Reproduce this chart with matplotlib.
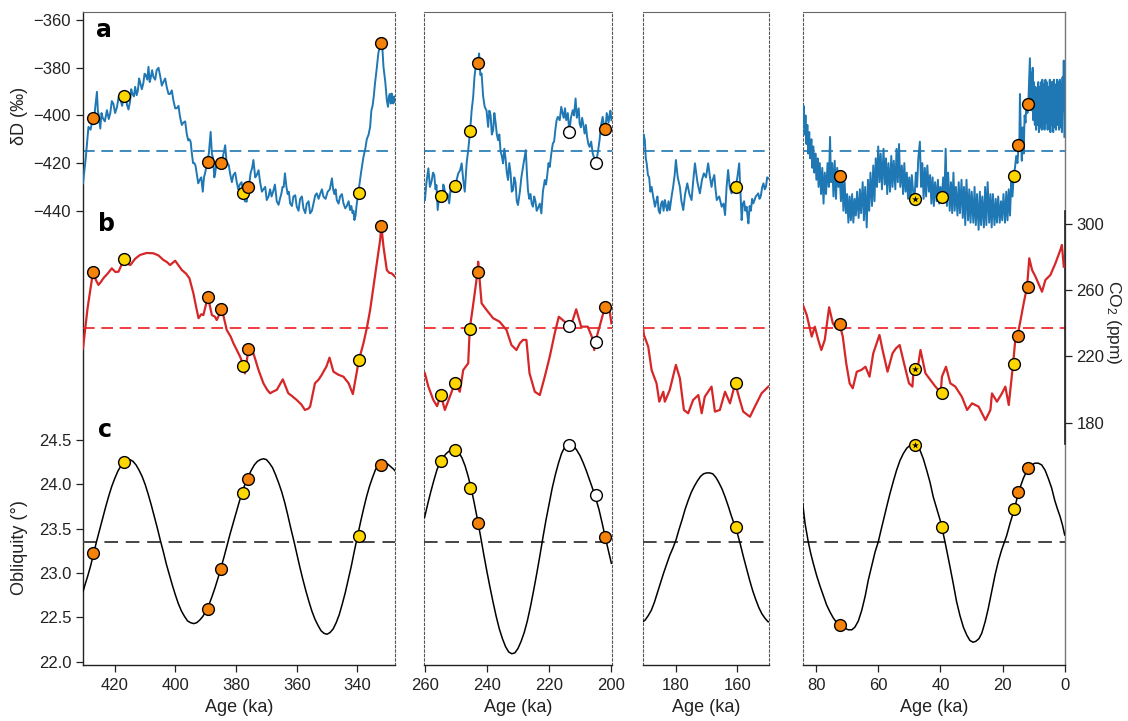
import matplotlib.pyplot as plt
from matplotlib.ticker import FormatStrFormatter

plt.rcParams['font.family'] = ['Liberation Sans', 'DejaVu Sans']
plt.rcParams['mathtext.default'] = 'regular'

# ---------------- data ----------------
# column 1 : 430-328 ka
d1_age = [430.5, 429.6, 428.7, 428.0, 427.3, 426.9, 426.5, 425.9, 425.6, 425.3, 424.8, 424.4, 424.0, 423.3,
          422.6, 422.0, 421.5, 421.0, 420.5, 419.9, 419.3, 418.7, 418.2, 417.6, 417.0, 416.5, 416.0, 415.5,
          415.0, 414.6, 414.2, 413.7, 413.3, 412.8, 412.4, 412.0, 411.7, 411.1, 410.6, 410.2, 409.8, 409.3,
          408.9, 408.5, 408.2, 407.7, 407.3, 406.7, 406.2, 405.6, 405.1, 404.5, 404.0, 403.4, 402.9, 402.3,
          401.8, 401.2, 400.7, 400.1, 399.6, 399.0, 398.5, 397.9, 397.4, 396.8, 396.3, 395.8, 395.4, 395.0,
          394.6, 394.2, 393.8, 393.4, 393.0, 392.5, 392.0, 391.5, 391.0, 390.6, 390.2, 389.5, 389.0, 388.4,
          388.0, 387.6, 387.2, 386.9, 386.4, 386.0, 385.5, 385.0, 384.3, 383.6, 383.2, 382.8, 382.4, 382.0,
          381.4, 380.9, 380.3, 379.8, 379.3, 378.8, 378.2, 377.7, 377.1, 376.5, 376.0, 375.6, 375.2, 374.7,
          374.3, 373.7, 373.2, 372.6, 372.1, 371.5, 371.0, 370.4, 369.9, 369.3, 368.8, 368.3, 367.8, 367.2,
          366.6, 366.0, 365.5, 365.1, 364.7, 364.3, 363.9, 363.4, 363.0, 362.6, 362.2, 361.6, 361.1, 360.5,
          360.0, 359.4, 358.9, 358.3, 357.8, 357.2, 356.7, 356.1, 355.6, 355.0, 354.5, 353.9, 353.4, 352.8,
          352.3, 351.7, 351.2, 350.5, 349.8, 349.1, 348.4, 348.0, 347.6, 347.2, 346.8, 346.2, 345.7, 345.1,
          344.6, 344.0, 343.5, 342.9, 342.4, 342.0, 341.6, 341.3, 341.0, 340.6, 340.3, 339.7, 338.8, 338.0,
          337.4, 336.9, 336.3, 335.8, 335.4, 335.0, 334.6, 334.2, 333.6, 333.1, 332.6, 332.2, 331.8, 331.4,
          330.8, 330.3, 329.9, 329.6, 329.3, 329.0, 328.7, 328.4, 328.2, 327.9, 327.6]
d1_val = [-428.5, -418, -404.8, -406, -401.1, -403, -397, -390.1, -398, -400, -405.5, -399, -401, -402.5,
          -397.8, -401.5, -399, -394, -395, -399, -396.5, -392, -393, -396, -392.0, -391, -395.5, -397.5,
          -394.3, -389, -391, -392, -388, -391.5, -389.5, -384.5, -385.9, -389, -386.5, -382.5, -383, -385,
          -379.6, -386, -384.5, -381, -383.8, -385, -381, -380, -383.1, -387.5, -386, -384.5, -388, -391,
          -391, -389.5, -393.6, -397, -397, -396, -400.6, -404, -403, -402.5, -407.6, -410.5, -410, -411,
          -415.9, -420, -420, -421, -424.3, -428.5, -427, -426, -432.0, -426, -424, -419.5, -416, -406.9,
          -416, -418, -426, -424.3, -419, -421, -422, -420.1, -417, -412.5, -419, -420, -421, -424.3,
          -428, -425, -424, -427.9, -431, -429, -428, -432.7, -436, -436.2, -430.0, -428, -424, -422,
          -418.7, -426, -425, -423, -427.9, -432, -431, -430, -435.5, -434, -431, -434, -432, -429,
          -436, -437.5, -434.8, -433, -430, -430, -424.3, -430, -433, -432, -436.9, -438, -434, -433.5,
          -438.3, -440, -435, -434, -439.0, -441, -437, -436, -441.1, -440, -437, -433.5, -432.7, -435,
          -433, -431, -434.1, -435, -432, -431, -426.4, -431, -433, -431, -435.5, -437, -434, -433,
          -436.9, -439, -438, -436, -439.7, -438, -441, -440, -443.9, -442, -438, -432.5, -424, -417.4,
          -414, -410, -408, -404.8, -398, -396, -392, -386.6, -380, -374, -371, -369.4, -371, -379.6,
          -386, -393.6, -396.4, -392, -391, -395, -390.8, -393, -395, -392, -394.3]

c1_age = [430.5, 429.0, 427.2, 426.2, 425.4, 424.6, 423.8, 422.4, 421.0, 419.8, 418.8, 416.9, 415.8, 414.9,
          413.3, 411.7, 409.5, 407.3, 405.6, 404.0, 402.8, 401.8, 400.1, 397.9, 396.5, 395.4, 394.1, 393.2,
          392.4, 391.5, 390.8, 389.3, 388.0, 387.0, 386.4, 384.7, 383.1, 381.8, 380.9, 378.7, 377.5, 377.1,
          375.9, 374.3, 372.6, 371.0, 369.8, 368.8, 367.6, 366.6, 364.6, 362.8, 361.5, 360.0, 358.5, 357.3,
          356.2, 355.6, 354.0, 352.8, 351.8, 350.2, 349.2, 347.9, 346.3, 344.6, 342.9, 341.5, 339.5, 338.0,
          336.8, 335.8, 333.6, 332.5, 332.1, 331.4, 330.3, 329.5, 328.7, 327.6]
c1_val = [224.9, 249.1, 271.0, 266, 263.2, 265, 267.2, 270, 273.2, 271, 271.2, 278.9, 276, 275.2,
          279, 281.3, 282.5, 282.3, 281, 278.3, 277, 275.2, 277.8, 272.2, 270, 267.2, 258.2, 250,
          243.1, 245.5, 245, 256.1, 245, 244, 242, 248.7, 236, 232, 228, 219.9, 214.4, 209.8,
          224.5, 221.9, 211.8, 203.8, 200, 197.8, 199, 199.8, 206.2, 197.8, 196, 193.7, 191, 187.7,
          188.5, 189.7, 203.8, 206, 208.8, 214, 219.3, 210.8, 209, 207.8, 203.8, 197.3, 217.9, 228,
          238, 248.1, 276.3, 290.3, 298.8, 286.3, 272.2, 270.5, 270.2, 268.2]

o1_age = [430.5, 430, 429, 428, 427, 426, 425, 424, 423, 422, 421, 420, 419, 418, 417, 416, 415, 414, 413,
          412, 411, 410, 409, 408, 407, 406, 405, 404, 403, 402, 401, 400, 399, 398, 397, 396, 395, 394,
          393, 392, 391, 390, 389, 388, 387, 386, 385, 384, 383, 382, 381, 380, 379, 378, 377, 376, 375,
          374, 373, 372, 371, 370, 369, 368, 367, 366, 365, 364, 363, 362, 361, 360, 359, 358, 357, 356,
          355, 354, 353, 352, 351, 350, 349, 348, 347, 346, 345, 344, 343, 342, 341, 340, 339, 338, 337,
          336, 335, 334, 333, 332, 331, 330, 329, 328, 327.5]
o1_val = [22.79, 22.85, 22.96, 23.08, 23.22, 23.36, 23.49, 23.62, 23.75, 23.87, 23.98, 24.07, 24.15, 24.21,
          24.26, 24.28, 24.28, 24.26, 24.22, 24.16, 24.09, 24.00, 23.89, 23.77, 23.64, 23.51, 23.37, 23.24,
          23.10, 22.98, 22.86, 22.75, 22.65, 22.57, 22.51, 22.46, 22.44, 22.43, 22.44, 22.47, 22.51, 22.57,
          22.64, 22.73, 22.83, 22.94, 23.06, 23.18, 23.31, 23.44, 23.56, 23.68, 23.80, 23.91, 24.01, 24.09,
          24.16, 24.22, 24.26, 24.28, 24.29, 24.28, 24.24, 24.19, 24.11, 24.02, 23.92, 23.80, 23.66, 23.51,
          23.37, 23.22, 23.07, 22.93, 22.80, 22.68, 22.57, 22.48, 22.41, 22.35, 22.32, 22.31, 22.33, 22.37,
          22.44, 22.53, 22.65, 22.78, 22.93, 23.08, 23.25, 23.41, 23.57, 23.72, 23.86, 23.98, 24.08, 24.17,
          24.22, 24.25, 24.25, 24.23, 24.20, 24.17, 24.15]

e1_age = [427.2, 417.0, 389.4, 385.0, 377.6, 376.0, 339.6, 332.2]
e1_type = ['o', 'y', 'o', 'o', 'y', 'o', 'y', 'o']
e1_dD = [-401.1, -392.0, -419.5, -420.1, -432.7, -430.0, -432.5, -369.4]
e1_co2 = [271.0, 278.9, 256.1, 248.7, 214.4, 224.5, 217.9, 298.8]
e1_obl = [23.23, 24.25, 22.60, 23.05, 23.90, 24.06, 23.42, 24.22]

# column 2 : 260-200 ka
d2_age = [259.9, 259.4, 258.8, 258.3, 257.8, 257.3, 256.9, 256.5, 256.2, 255.8, 255.2, 254.7, 254.3, 254.0,
          253.6, 253.2, 252.6, 252.1, 251.6, 251.2, 250.7, 250.2, 249.7, 249.2, 248.6, 248.1, 247.6, 247.1,
          246.5, 246.0, 245.4, 244.9, 244.4, 244.0, 243.6, 242.8, 242.5, 242.1, 241.7, 241.2, 240.7, 240.1,
          239.6, 239.2, 238.8, 238.4, 238.0, 237.6, 237.2, 236.8, 236.4, 236.0, 235.6, 235.2, 234.8, 234.4,
          234.0, 233.6, 233.2, 232.8, 232.4, 232.0, 231.6, 231.2, 230.8, 230.4, 230.0, 229.4, 228.9, 228.2,
          227.5, 227.1, 226.8, 226.4, 226.0, 225.6, 225.2, 224.8, 224.4, 224.0, 223.6, 223.0, 222.5, 222.0,
          221.4, 221.0, 220.6, 220.2, 219.8, 219.3, 218.8, 218.4, 218.0, 217.6, 217.2, 216.6, 216.1, 215.7,
          215.3, 214.9, 214.5, 214.0, 213.5, 213.0, 212.4, 212.0, 211.5, 211.1, 210.8, 210.5, 210.2, 209.8,
          209.4, 209.0, 208.6, 208.2, 207.8, 207.4, 207.0, 206.5, 206.0, 205.5, 205.0, 204.4, 203.8, 203.3,
          202.8, 202.4, 201.9, 201.5, 201.2, 200.9, 200.6, 200.3, 200.0]
d2_val = [-435.5, -428, -422.2, -430, -427.9, -424, -425, -431, -429.2, -439.7, -432, -433.9, -436, -429,
          -431, -435, -433, -436.9, -430, -432, -428, -429.8, -427, -424.3, -423, -420.1, -427, -432,
          -420, -414.6, -406.7, -398, -392.2, -384, -379.6, -377.8, -374, -383, -382.4, -392, -396.4, -398,
          -404.8, -398, -400, -408, -406.2, -399, -403, -408, -410.4, -408, -415, -417, -420.1, -414,
          -418, -424, -427.1, -420, -424, -432, -431.3, -426, -428, -436, -437.6, -432, -425.8, -420,
          -414.6, -425, -431.3, -435, -433, -437, -438.3, -434, -436, -440, -439.0, -437, -441.1, -432,
          -427.1, -429, -425, -420, -421.6, -416, -411.7, -411, -406, -402, -400.6, -402, -396.4, -399,
          -401, -397, -402, -399, -407, -401, -397.8, -400, -392.9, -401, -399, -397, -403.4, -405,
          -401, -404, -407.6, -404, -409, -412, -413.2, -411, -415.9, -418, -420.1, -416, -410.4, -404,
          -400.6, -404, -405.9, -399, -401, -403, -399.9, -398, -402]

c2_age = [259.9, 258.8, 257.2, 256.0, 254.8, 253.5, 251.9, 250.3, 248.7, 247.6, 246.0, 245.5, 244.2, 243.0,
          242.8, 241.7, 240.1, 238.0, 235.9, 233.7, 232.1, 230.5, 229.4, 228.4, 227.3, 226.3, 224.6, 223.0,
          221.4, 219.8, 218.2, 216.9, 215.0, 213.8, 212.4, 211.3, 209.7, 207.6, 206.3, 205.5, 205.2, 203.8,
          202.1, 200.6, 200.0]
c2_val = [209.8, 201.8, 193.7, 190, 196.7, 187.7, 195.7, 203.8, 198.7, 211.8, 215.9, 236.6, 254.1, 271.0,
          277.2, 252.1, 248.1, 243.1, 241, 236, 226.9, 223.9, 228, 230, 230, 209.8, 198.7, 196.7,
          207.8, 219.9, 234, 244.0, 241, 238.4, 242, 248.5, 238, 238, 232, 223.9, 228.7, 238,
          249.7, 248.1, 240]

o2_age = [260, 259, 258, 257, 256, 255, 254, 253, 252, 251, 250, 249, 248, 247, 246, 245, 244, 243, 242,
          241, 240, 239, 238, 237, 236, 235, 234, 233, 232, 231, 230, 229, 228, 227, 226, 225, 224, 223,
          222, 221, 220, 219, 218, 217, 216, 215, 214, 213, 212, 211, 210, 209, 208, 207, 206, 205, 204,
          203, 202, 201, 200]
o2_val = [23.63, 23.78, 23.92, 24.05, 24.17, 24.25, 24.31, 24.35, 24.38, 24.40, 24.40, 24.36, 24.30, 24.21,
          24.09, 23.95, 23.78, 23.60, 23.41, 23.21, 23.02, 22.84, 22.67, 22.51, 22.37, 22.26, 22.17, 22.11,
          22.09, 22.10, 22.15, 22.23, 22.33, 22.46, 22.62, 22.80, 22.99, 23.19, 23.40, 23.60, 23.78, 23.96,
          24.11, 24.24, 24.35, 24.42, 24.45, 24.46, 24.43, 24.38, 24.32, 24.24, 24.15, 24.05, 23.95, 23.84,
          23.72, 23.57, 23.41, 23.26, 23.11]

e2_age = [254.8, 250.3, 245.5, 242.9, 213.6, 205.1, 202.0]
e2_type = ['y', 'y', 'y', 'o', 'w', 'w', 'o']
e2_dD = [-433.9, -429.8, -406.7, -377.8, -407.0, -420.1, -405.9]
e2_co2 = [196.7, 203.8, 236.6, 271.0, 238.4, 228.7, 249.7]
e2_obl = [24.27, 24.39, 23.96, 23.56, 24.44, 23.88, 23.41]

# column 3 : 190-150 ka
d3_age = [190.8, 190.5, 190.1, 189.8, 189.5, 189.1, 188.7, 188.3, 187.9, 187.4, 186.8, 186.4, 186.0, 185.6,
          185.2, 184.8, 184.4, 184.0, 183.6, 183.2, 182.8, 182.4, 182.0, 181.4, 180.9, 180.4, 180.0, 179.4,
          178.7, 178.2, 177.6, 177.0, 176.3, 175.6, 174.9, 174.4, 173.8, 173.0, 172.2, 171.5, 170.9, 170.2,
          169.5, 168.9, 168.4, 168.0, 167.5, 167.1, 166.7, 165.9, 165.1, 164.5, 164.0, 163.5, 163.0, 162.5,
          161.9, 161.2, 160.6, 160.0, 159.4, 159.0, 158.6, 158.2, 157.8, 157.4, 157.0, 156.7, 156.4, 156.0,
          155.6, 155.2, 154.8, 154.0, 153.2, 152.8, 152.4, 151.9, 151.5, 151.1, 150.7, 150.3, 149.9]
d3_val = [-413, -408, -410.4, -418, -420.1, -425, -426, -432, -430, -434, -438.3, -436, -434, -440,
          -441.1, -437, -436, -440, -435.5, -438, -440, -436, -439.7, -434, -430, -425, -418.7, -426,
          -430, -436, -439.7, -433, -428.5, -433, -435.5, -428, -420.1, -428, -432.7, -427, -424.3, -426,
          -420.1, -426, -430, -427, -425, -431, -435.5, -434, -438.3, -437, -441.8, -430, -422.9, -430,
          -432.7, -428, -430.1, -426, -420.1, -432, -443.9, -437, -436, -440, -438.3, -442, -445.3, -438,
          -440, -435, -436.9, -434, -432.7, -435, -434, -430, -428.5, -431, -430, -426, -426.4]

c3_age = [190.6, 190.4, 189.0, 187.9, 186.3, 185.4, 184.1, 183.6, 182.0, 180.0, 178.7, 177.4, 176.0, 174.4,
          172.7, 171.6, 170.6, 168.4, 167.3, 165.7, 164.0, 162.4, 160.7, 159.2, 158.1, 155.9, 154.3, 152.1, 149.9]
c3_val = [236, 233, 225.9, 211.8, 203.8, 192.7, 198.7, 192.7, 199.8, 214.9, 206.8, 187.7, 185.7, 193.7,
          196.7, 185.7, 195.7, 201.8, 186.7, 187.7, 198.7, 191.7, 203.8, 193.7, 186.7, 183.6, 189.7, 197.8, 201.8]

o3_age = [190.8, 190, 189, 188, 187, 186, 185, 184, 183, 182, 181, 180, 179, 178, 177, 176, 175, 174, 173,
          172, 171, 170, 169, 168, 167, 166, 165, 164, 163, 162, 161, 160, 159, 158, 157, 156, 155, 154,
          153, 152, 151, 150, 149.8]
o3_val = [22.45, 22.47, 22.52, 22.58, 22.67, 22.78, 22.89, 23.00, 23.10, 23.20, 23.28, 23.37, 23.49, 23.60,
          23.72, 23.82, 23.91, 23.98, 24.04, 24.09, 24.12, 24.13, 24.13, 24.12, 24.08, 24.02, 23.95, 23.86,
          23.76, 23.65, 23.55, 23.45, 23.32, 23.18, 23.05, 22.92, 22.80, 22.70, 22.61, 22.54, 22.49, 22.45,
          22.45]

e3_age = [160.6]
e3_type = ['y']
e3_dD = [-430.1]
e3_co2 = [203.8]
e3_obl = [23.52]

# column 4 : 84-0 ka
d4_age = [84.3, 84.0, 83.7, 83.4, 83.1, 82.8, 82.5, 82.2, 81.9, 81.5, 81.2, 80.9, 80.6, 80.2, 79.9, 79.5,
          79.2, 78.8, 78.4, 78.0, 77.6, 77.2, 76.8, 76.3, 75.9, 75.5, 75.2, 74.8, 74.4, 74.0, 73.6, 73.2,
          72.8, 72.4, 72.0, 71.6, 71.2, 70.8, 70.4, 70.0, 69.6, 69.2, 68.8, 68.4, 68.0, 67.6, 67.2, 66.8,
          66.3, 65.9, 65.5, 65.0, 64.6, 64.2, 63.7, 63.3, 62.9, 62.5, 62.0, 61.6, 61.2, 60.8, 60.4, 60.0,
          59.6, 59.2, 58.8, 58.3, 57.9, 57.5, 57.1, 56.7, 56.2, 55.8, 55.4, 55.0, 54.5, 54.1, 53.7, 53.3,
          52.9, 52.4, 52.0, 51.6, 51.2, 50.8, 50.4, 50.0, 49.6, 49.2, 48.7, 48.3, 47.9, 47.5, 47.1, 46.6,
          46.2, 45.8, 45.4, 45.0, 44.6, 44.2, 43.7, 43.3, 42.9, 42.5, 42.1, 41.7, 41.2, 40.8, 40.4, 40.0,
          39.5, 39.1, 38.7, 38.3, 37.9, 37.5, 37.0, 36.6, 36.2, 35.8, 35.4, 35.0, 34.5, 34.1, 33.7, 33.2,
          32.8, 32.4, 32.0, 31.6, 31.1, 30.7, 30.3, 29.9, 29.4, 29.0, 28.6, 28.2, 27.7, 27.3, 26.9, 26.5,
          26.0, 25.6, 25.2, 24.8, 24.3, 23.9, 23.5, 23.1, 22.6, 22.2, 21.8, 21.4, 20.9, 20.5, 20.1, 19.7,
          19.2, 18.8, 18.4, 18.0, 17.6, 17.2, 16.8, 16.4, 16.0, 15.6, 15.2, 14.8, 14.6, 14.4, 14.1, 13.8,
          13.5, 13.2, 12.9, 12.6, 12.3, 12.0, 11.7, 11.4, 11.2, 11.0, 10.8, 10.5, 10.3, 10.1, 9.9, 9.6,
          9.4, 9.2, 9.0, 8.8, 8.5, 8.3, 8.1, 7.9, 7.6, 7.4, 7.2, 6.9, 6.7, 6.5, 6.2, 6.0,
          5.8, 5.5, 5.3, 5.1, 4.8, 4.6, 4.4, 4.1, 3.9, 3.7, 3.5, 3.2, 3.0, 2.8, 2.5, 2.3,
          2.1, 1.8, 1.6, 1.4, 1.1, 0.9, 0.7, 0.5, 0.3, 0.1]
d4_val = [-403, -396, -408, -400, -412, -404, -416, -407, -418, -410, -422, -413, -424, -416, -427, -418,
          -430, -420, -433, -422, -437, -424, -433, -420, -430, -409, -428, -420, -434, -419, -435, -422,
          -430, -425, -436, -424, -440, -428, -441, -433, -445, -434, -444, -433, -445, -435, -442, -432,
          -443, -431, -441, -428, -444, -430, -447, -427, -440, -424, -438, -421, -436, -418, -430, -413,
          -428, -416, -431, -414, -429, -418, -433, -420, -432, -417, -430, -419, -431, -414, -428, -412,
          -430, -421, -433, -420, -432, -424, -435, -426, -436, -425, -433, -435, -424, -430, -418, -411,
          -430, -420, -435, -422, -434, -421, -432, -425, -437, -426, -438, -428, -436, -427, -437, -430,
          -434, -426, -433, -414, -438, -424, -440, -428, -441, -424, -440, -430, -442, -428, -441, -427,
          -443, -430, -446, -427, -444, -431, -445, -432, -445, -430, -446, -433, -448, -432, -446, -434,
          -447, -430, -446, -428, -445, -433, -447, -433, -446, -435, -445, -434, -445, -436, -444, -433,
          -445, -432, -444, -431, -442, -428, -434, -425, -422, -417, -420, -412, -413, -391, -409, -419,
          -405, -416, -400, -403, -394, -399, -395, -384, -376, -393, -382, -398, -380, -402, -386, -404,
          -388, -406, -389, -404, -386, -407, -388, -405, -386, -406, -385, -404, -387, -406, -385, -403,
          -386, -406, -388, -404, -385, -407, -386, -404, -386, -407, -385, -405, -387, -406, -385, -404,
          -386, -406, -385, -405, -387, -407, -384, -398, -377, -409]

c4_age = [84.1, 83.0, 81.4, 80.4, 79.3, 78.3, 77.2, 75.8, 74.6, 73.5, 72.4, 71.4, 70.3, 69.2, 68.2, 66.9,
          65.5, 64.1, 62.8, 61.6, 59.6, 58.6, 57.0, 55.4, 54.3, 53.1, 51.7, 50.1, 49.0, 48.6, 47.4, 46.4,
          44.8, 43.2, 41.6, 39.9, 39.5, 38.2, 36.8, 35.2, 33.1, 31.4, 29.8, 27.7, 25.5, 23.9, 23.4, 21.8,
          20.2, 19.1, 18.0, 16.6, 15.9, 15.2, 14.2, 13.2, 12.1, 11.4, 10.5, 9.4, 7.3, 6.2, 4.6, 3.0,
          1.4, 0.9, 0.3]
c4_val = [250.5, 245, 232, 238, 230, 223.9, 230, 249.7, 240, 237, 239.4, 232, 215.9, 203.8, 200.8, 210.8,
          211.8, 213.8, 207.8, 221.9, 233, 223.9, 210.8, 221.9, 224.9, 226.9, 215.9, 203.8, 201.8, 212.6, 211.8, 223.9,
          209.8, 205.8, 201.8, 198.2, 207.8, 213.8, 203.8, 201.8, 195.7, 187.7, 191.7, 189.7, 181.6, 187.7, 197.7, 192.7,
          197.7, 201.8, 190.7, 215.7, 230, 232.2, 242, 252.1, 262.2, 279.3, 272.2, 268.2, 259.1, 266.2, 269.2, 276.2,
          284.3, 287.3, 274.2]

o4_age = [84.3, 83.5, 82.5, 81.7, 80.9, 79.8, 78.7, 77.6, 76.6, 75.5, 74.4, 73.3, 72.2, 70.9, 69.6, 68.5,
          67.5, 66.4, 65.3, 64.2, 63.2, 62.1, 61.0, 60.0, 59.2, 58.3, 57.2, 56.2, 55.1, 54.1, 53.0, 51.9,
          50.8, 49.8, 49.0, 48.2, 47.4, 46.6, 45.5, 44.4, 43.3, 42.3, 41.2, 40.1, 39.3, 38.5, 37.7, 36.9,
          35.8, 34.8, 33.7, 32.6, 31.5, 30.5, 29.5, 28.6, 27.6, 26.7, 25.6, 24.6, 23.5, 22.4, 21.3, 20.3,
          19.5, 18.7, 17.6, 16.2, 14.8, 13.3, 12.5, 11.7, 10.6, 9.6, 8.5, 7.4, 6.3, 5.3, 4.2, 3.2,
          2.3, 1.5, 0.7, 0.0]
o4_val = [23.78, 23.55, 23.35, 23.22, 23.11, 22.97, 22.85, 22.74, 22.64, 22.56, 22.49, 22.44, 22.41, 22.38,
          22.36, 22.36, 22.39, 22.46, 22.58, 22.74, 22.92, 23.08, 23.24, 23.35, 23.47, 23.60, 23.76, 23.90,
          24.04, 24.16, 24.27, 24.35, 24.41, 24.44, 24.45, 24.45, 24.43, 24.39, 24.29, 24.16, 24.02, 23.86,
          23.73, 23.60, 23.48, 23.35, 23.21, 23.07, 22.87, 22.68, 22.52, 22.39, 22.30, 22.24, 22.22, 22.23,
          22.26, 22.32, 22.45, 22.60, 22.79, 22.98, 23.14, 23.26, 23.34, 23.42, 23.56, 23.72, 23.92, 24.07,
          24.13, 24.18, 24.22, 24.24, 24.24, 24.22, 24.16, 24.07, 23.96, 23.82, 23.72, 23.64, 23.54, 23.43]

e4_age = [72.2, 48.3, 39.6, 16.4, 15.0, 11.9]
e4_type = ['o', 's', 'y', 'y', 'o', 'o']
e4_dD = [-425.3, -435.1, -434.1, -425.3, -412.2, -395.1]
e4_co2 = [239.4, 212.6, 198.2, 215.7, 232.2, 262.2]
e4_obl = [22.41, 24.45, 23.52, 23.72, 23.92, 24.18]

# reference (dashed) levels
dD_ref = -415
co2_ref = 237
obl_ref = 23.35

# ---------------- drawing ----------------
W, H = 1128, 721
fig = plt.figure(figsize=(W / 100, H / 100), dpi=100)

fill = {'o': '#f5820a', 'y': '#ffd700', 'w': 'white', 's': '#ffd700'}
blue, red = '#1f77b4', '#d62728'
dot = (0, (2, 2))
tick_kw = dict(direction='out', length=5, width=0.9, labelsize=12, colors='#222222')


def events(ax, ages, vals, types):
    for a, v, t in zip(ages, vals, types):
        ax.scatter([a], [v], s=72, c=fill[t], edgecolors='black', linewidths=1.0, zorder=6, clip_on=False)
        if t == 's':
            ax.scatter([a], [v], s=26, marker='*', c='black', linewidths=0, zorder=7, clip_on=False)


def column(x0, x1, xlim, xticks, d, c, o, ev, first=False, last=False):
    rect = [x0 / W, (H - 665) / H, (x1 - x0) / W, 653 / H]
    ax = fig.add_axes(rect)
    axc = ax.twinx()
    axo = ax.twinx()
    ax.set_xlim(xlim)
    ax.set_ylim(-630.6, -356.6)
    axc.set_ylim(33.7, 428)
    axo.set_ylim(21.963, 29.33)

    ax.plot(d[0], d[1], color=blue, lw=1.4, zorder=3)
    ax.axhline(dD_ref, color=blue, lw=1.2, ls=(0, (7, 4)), zorder=2)
    axc.plot(c[0], c[1], color=red, lw=1.6, zorder=3)
    axc.axhline(co2_ref, color='#ee1c1c', lw=1.2, ls=(0, (7, 4)), zorder=2)
    axo.plot(o[0], o[1], color='black', lw=1.1, zorder=3)
    axo.axhline(obl_ref, color='#444444', lw=1.4, ls=(0, (7, 4)), zorder=2)

    ev_age, ev_type, ev_d, ev_c, ev_o = ev
    events(ax, ev_age, ev_d, ev_type)
    events(axc, ev_age, ev_c, ev_type)
    events(axo, ev_age, ev_o, ev_type)

    for a in (axc, axo):
        for s in a.spines.values():
            s.set_visible(False)
    ax.spines['top'].set_color('#666666')
    ax.spines['top'].set_linewidth(0.8)
    ax.spines['bottom'].set_color('#222222')
    ax.spines['bottom'].set_linewidth(1.0)
    for side, solid in (('left', first), ('right', last)):
        sp = ax.spines[side]
        if solid:
            sp.set_color('#222222' if side == 'left' else '#777777')
            sp.set_linewidth(1.0)
        else:
            sp.set_linestyle(dot)
            sp.set_color('#555555')
            sp.set_linewidth(0.8)

    ax.set_xticks(xticks)
    ax.tick_params(axis='x', pad=4, **tick_kw)
    ax.set_xlabel('Age (ka)', fontsize=13, color='#222222', labelpad=5)

    axo.yaxis.tick_left()
    if first:
        ax.set_yticks([-360, -380, -400, -420, -440])
        ax.tick_params(axis='y', **tick_kw)
        axo.set_yticks([22.0, 22.5, 23.0, 23.5, 24.0, 24.5])
        axo.yaxis.set_major_formatter(FormatStrFormatter('%.1f'))
        axo.tick_params(axis='y', **tick_kw)
    else:
        ax.tick_params(axis='y', left=False, labelleft=False)
        axo.tick_params(axis='y', left=False, labelleft=False)
    axo.tick_params(axis='y', right=False, labelright=False)
    if last:
        axc.spines['right'].set_visible(True)
        axc.spines['right'].set_bounds(167, 308)
        axc.spines['right'].set_color('#222222')
        axc.spines['right'].set_linewidth(1.2)
        axc.set_yticks([180, 220, 260, 300])
        axc.tick_params(axis='y', **tick_kw)
    else:
        axc.tick_params(axis='y', right=False, labelright=False)
    return ax


column(83, 395.3, (430.5, 327.5), [420, 400, 380, 360, 340],
       (d1_age, d1_val), (c1_age, c1_val), (o1_age, o1_val),
       (e1_age, e1_type, e1_dD, e1_co2, e1_obl), first=True)
column(424, 612, (260.2, 199.8), [260, 240, 220, 200],
       (d2_age, d2_val), (c2_age, c2_val), (o2_age, o2_val),
       (e2_age, e2_type, e2_dD, e2_co2, e2_obl))
column(642.7, 768.7, (190.8, 149.8), [180, 160],
       (d3_age, d3_val), (c3_age, c3_val), (o3_age, o3_val),
       (e3_age, e3_type, e3_dD, e3_co2, e3_obl))
column(802.7, 1064.7, (84.3, 0), [80, 60, 40, 20, 0],
       (d4_age, d4_val), (c4_age, c4_val), (o4_age, o4_val),
       (e4_age, e4_type, e4_dD, e4_co2, e4_obl), last=True)

# axis titles and panel letters
fig.text(20 / W, 1 - 116 / H, 'δD (‰)', rotation=90, ha='center', va='center', fontsize=13, color='#222222')
fig.text(20 / W, 1 - 548 / H, 'Obliquity (°)', rotation=90, ha='center', va='center', fontsize=13, color='#222222')
fig.text(1114 / W, 1 - 322 / H, 'CO$_2$ (ppm)', rotation=270, ha='center', va='center', fontsize=12.5,
         color='#222222')
for lab, (x, y) in zip('abc', [(104, 30), (106, 224), (105, 430)]):
    fig.text(x / W, 1 - y / H, lab, ha='center', va='center', fontsize=17, fontweight='heavy',
             family='DejaVu Sans', color='black')

fig.savefig('out.png', dpi=100)
